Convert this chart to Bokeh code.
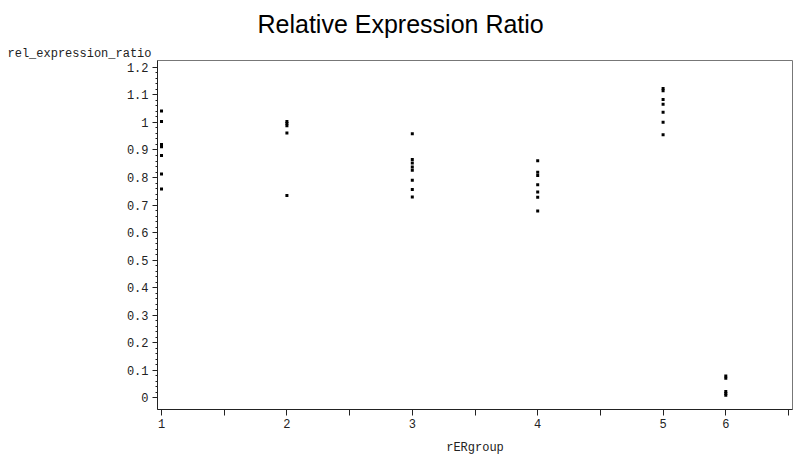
from bokeh.plotting import figure
from bokeh.models import Range1d, FixedTicker, Title, ColumnDataSource
from bokeh.embed import file_html
from bokeh.resources import INLINE

# ---- data ----
groups = ["1", "2", "3", "4", "5", "6"]
# position of each group on the axis, counted in axis tick steps
group_pos = [0, 2, 4, 6, 8, 9]
g1 = [1.042, 1.004, 0.920, 0.912, 0.880, 0.813, 0.758]
g2 = [1.004, 0.996, 0.988, 0.962, 0.735]
g3 = [0.959, 0.865, 0.853, 0.838, 0.826, 0.790, 0.756, 0.729]
g4 = [0.861, 0.819, 0.807, 0.774, 0.747, 0.728, 0.678]
g5 = [1.124, 1.115, 1.084, 1.066, 1.037, 1.001, 0.955]
g6 = [0.078, 0.070, 0.022, 0.015, 0.008]
group_values = [g1, g2, g3, g4, g5, g6]

y_ticks = [0.0, 0.1, 0.2, 0.3, 0.4, 0.5, 0.6, 0.7, 0.8, 0.9, 1.0, 1.1, 1.2]
y_tick_labels = ["0", "0.1", "0.2", "0.3", "0.4", "0.5", "0.6", "0.7", "0.8", "0.9", "1", "1.1", "1.2"]
x_ticks = [0, 1, 2, 3, 4, 5, 6, 7, 8, 9, 10]

title_text = "Relative Expression Ratio"
y_label = "rel_expression_ratio"
x_label = "rERgroup"

xs, ys = [], []
for pos, vals in zip(group_pos, group_values):
    xs += [pos] * len(vals)
    ys += vals
src = ColumnDataSource(dict(x=xs, y=ys))

FONT = "Liberation Mono"

p = figure(width=793, height=458, output_backend="svg", toolbar_location=None,
           x_range=Range1d(-0.064, 10.064), y_range=Range1d(-0.0435, 1.2254),
           min_border_left=157, min_border_right=1, min_border_top=59, min_border_bottom=49)
p.grid.visible = False
p.background_fill_color = "white"
p.border_fill_color = "white"
p.outline_line_color = "#777777"
p.outline_line_width = 1

p.scatter("x", "y", source=src, marker="square", size=3, color="black", line_width=0)

# x axis
xa = p.xaxis[0]
xa.ticker = FixedTicker(ticks=x_ticks)
overrides = {t: "" for t in x_ticks}
for g, pos in zip(groups, group_pos):
    overrides[pos] = g
xa.major_label_overrides = overrides
xa.major_tick_out = 6
xa.major_tick_in = 0
xa.minor_tick_line_color = None
xa.major_label_standoff = 3
xa.major_label_text_font = FONT
xa.major_label_text_font_size = "12px"
xa.major_label_text_color = "#222222"
xa.axis_label = x_label
xa.axis_label_text_font = FONT
xa.axis_label_text_font_size = "12px"
xa.axis_label_text_font_style = "normal"
xa.axis_label_text_color = "#222222"
xa.axis_label_standoff = 10
xa.axis_line_color = "#222222"
xa.major_tick_line_color = "#222222"

# y axis
ya = p.yaxis[0]
minor = [round(i * 0.02, 2) for i in range(0, 61)]
ya.ticker = FixedTicker(ticks=y_ticks, minor_ticks=minor)
ya.major_label_overrides = {t: l for t, l in zip(y_ticks, y_tick_labels)}
ya.major_tick_out = 5
ya.major_tick_in = 0
ya.minor_tick_out = 2
ya.minor_tick_in = 0
ya.major_label_standoff = 4
ya.major_label_text_font = FONT
ya.major_label_text_font_size = "12px"
ya.major_label_text_color = "#222222"
ya.axis_line_color = "#222222"
ya.major_tick_line_color = "#222222"
ya.minor_tick_line_color = "#222222"

# y label (closest to the frame) and the main title above it
p.add_layout(Title(text=y_label, align="left", offset=-150, standoff=0,
                   text_font=FONT, text_font_size="12px", text_font_style="normal",
                   text_color="#222222"), "above")
p.add_layout(Title(text=title_text, align="left", offset=100, standoff=14,
                   text_font="Liberation Sans", text_font_size="25px",
                   text_font_style="normal", text_color="black"), "above")

open("out.html", "w").write(file_html(p, INLINE))
